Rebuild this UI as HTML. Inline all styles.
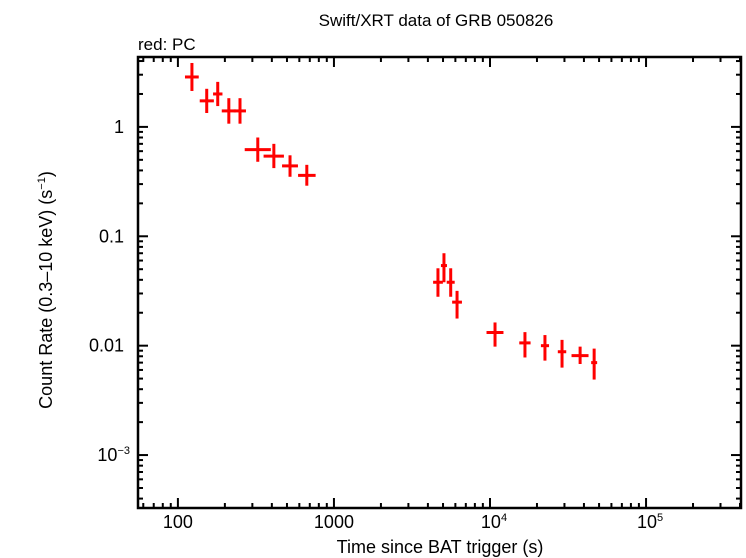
<!DOCTYPE html>
<html><head><meta charset="utf-8"><style>
body{margin:0;background:#fff}
svg{display:block;font-family:"Liberation Sans",sans-serif}
</style></head><body>
<svg id="chart" width="746" height="558" viewBox="0 0 746 558">
<text x="436" y="26" font-size="17" text-anchor="middle">Swift/XRT data of GRB 050826</text>
<text x="138" y="50" font-size="17">red: PC</text>
<rect x="138" y="57" width="603" height="451" fill="none" stroke="#000" stroke-width="2.5"/>
<g id="ticks"></g>
<g id="labels" font-size="18"></g>
<text x="440" y="553" font-size="18" text-anchor="middle">Time since BAT trigger (s)</text>
<text transform="translate(52,290) rotate(-90)" font-size="18" text-anchor="middle">Count Rate (0.3–10 keV) (s<tspan font-size="11" dy="-7">−1</tspan><tspan dy="7">)</tspan></text>
<g id="data"></g>
</svg>
<script>
const t    =[123,153,180,212,250,325,412,523,670,4640,5070,5600,6150,10770,16750,22500,28950,37800,46500];
const tLo  =[111,138,168,191,228,268,354,465,589,4320,4850,5280,5720,9500,15400,21200,27200,33300,44500];
const tHi  =[136,170,193,235,273,394,478,588,763,4990,5300,5940,6610,12200,18200,23900,30800,42800,48600];
const rate =[2.86,1.73,2.0,1.4,1.4,0.62,0.54,0.44,0.36,0.038,0.054,0.038,0.025,0.0132,0.0106,0.0100,0.0088,0.0081,0.0070];
const rLo  =[2.13,1.34,1.55,1.07,1.07,0.48,0.42,0.35,0.29,0.028,0.038,0.028,0.0177,0.0098,0.0078,0.0073,0.0063,0.0068,0.0049];
const rHi  =[3.84,2.23,2.58,1.83,1.83,0.80,0.70,0.55,0.45,0.051,0.070,0.051,0.0317,0.0163,0.0133,0.0125,0.0113,0.0098,0.0094];
const xTickVals=[100,1000,10000,100000];
const xTickLabels=["100","1000","10^4","10^5"];
const yTickVals=[1,0.1,0.01,0.001];
const yTickLabels=["1","0.1","0.01","10^−3"];

const L=138,R=741,T=57,B=508;
const xmin=Math.log10(55.5),xmax=Math.log10(406000);
const ymin=-3.484,ymax=0.639;
const X=v=>L+(Math.log10(v)-xmin)/(xmax-xmin)*(R-L);
const Y=v=>B-(Math.log10(v)-ymin)/(ymax-ymin)*(B-T);
const NS="http://www.w3.org/2000/svg";
function mk(tag,attrs,parent){const e=document.createElementNS(NS,tag);for(const k in attrs)e.setAttribute(k,attrs[k]);parent.appendChild(e);return e;}
const tg=document.getElementById('ticks'),lg=document.getElementById('labels'),dg=document.getElementById('data');
for(let d=1;d<=5;d++){for(let m=1;m<10;m++){const v=m*Math.pow(10,d);if(v<55.5||v>406000)continue;const x=X(v);const len=m===1?10:5;
const a=mk('line',{x1:x,x2:x,y1:B,y2:B-len,stroke:'#000','stroke-width':2},tg);


const b=mk('line',{x1:x,x2:x,y1:T,y2:T+len,stroke:'#000','stroke-width':2},tg);

}}
for(let d=-4;d<=0;d++){for(let m=1;m<10;m++){const v=m*Math.pow(10,d);const lv=Math.log10(v);if(lv<ymin||lv>ymax)continue;const y=Y(v);const len=m===1?10:5;
const a=mk('line',{x1:L,x2:L+len,y1:y,y2:y,stroke:'#000','stroke-width':2},tg);


const b=mk('line',{x1:R,x2:R-len,y1:y,y2:y,stroke:'#000','stroke-width':2},tg);

}}
function label(str,x,y,anchor,name){const e=mk('text',{x:x,y:y,'text-anchor':anchor},lg);


const p=str.split('^');e.appendChild(document.createTextNode(p[0]));
if(p[1]){const s=mk('tspan',{'font-size':11,dy:-7},e);s.textContent=p[1];}return e;}
xTickVals.forEach((v,i)=>label(xTickLabels[i],X(v)+(xTickLabels[i].includes('^')?4:0),528,'middle','x-tick-label'));
yTickVals.forEach((v,i)=>label(yTickLabels[i],124+(yTickLabels[i].includes('^')?6:0),Y(v)+6,'end','y-tick-label'));
for(let i=0;i<t.length;i++){
const h=mk('line',{x1:X(tLo[i]),x2:X(tHi[i]),y1:Y(rate[i]),y2:Y(rate[i]),stroke:'#f00','stroke-width':3},dg);


const v=mk('line',{x1:X(t[i]),x2:X(t[i]),y1:Y(rLo[i]),y2:Y(rHi[i]),stroke:'#f00','stroke-width':3},dg);

}
</script>
</body></html>
